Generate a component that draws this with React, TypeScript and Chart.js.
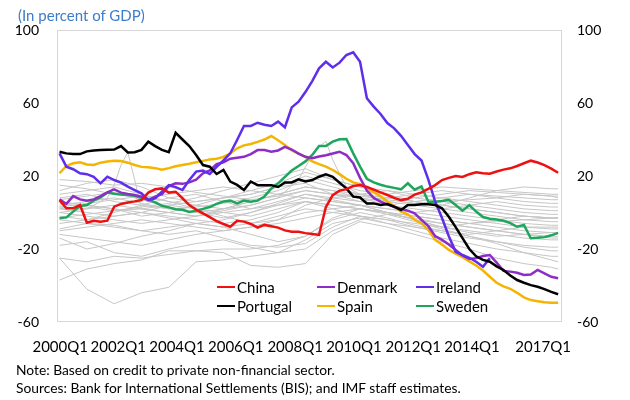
import React, { useEffect, useRef } from "react";
import { Chart, registerables } from "chart.js";
Chart.register(...registerables);

const FONT = "Lato, 'Open Sans', sans-serif";

// x axis (quarter index 0 = 2000Q1)
const xTickLabels = ["2000Q1", "2002Q1", "2004Q1", "2006Q1", "2008Q1", "2010Q1", "2012Q1", "2014Q1", "2017Q1"];
const xTickPos = [0.1, 8.6, 17.2, 25.8, 34.5, 43.1, 51.8, 60.4, 70.8];
const yTicks = [-60, -20, 20, 60, 100];
const X_MIN = -0.37;
const X_MAX = 73.57;

// highlighted series, quarterly from 2000Q1
const china = [6.8, 2.3, 2.3, 4.1, -5.6, -4.5, -5, -4.5, 3.2, 4.7,
  5.5, 6.1, 6.8, 10.9, 12.7, 13.2, 10.9, 11.4, 7.8, 4.1,
  1.6, -0.5, -2.5, -4.7, -6.3, -7.8, -4.5, -5, -6.3, -8.3,
  -6.8, -7.5, -8.3, -9.8, -10.5, -10.6, -11.3, -11.8, -12.3, 3,
  9.5, 12, 12.8, 14.5, 15, 14, 12.5, 11, 9.6, 8,
  6.8, 7.5, 9.8, 11, 13, 15, 17.8, 19, 20, 19.5,
  21, 22, 21.5, 21.3, 22.5, 23.5, 24.2, 25.5, 27, 28.4,
  27.4, 26, 24, 21.8];
const denmark = [7.2, 4.7, 9, 7.2, 6.5, 7.2, 9, 11, 12.7, 10.9,
  10.2, 9.6, 8.7, 6.8, 8.7, 10, 14.5, 16, 15.7, 16.5,
  18, 21.5, 23, 26.5, 27.5, 29.5, 30, 30.5, 32, 34.2,
  34.2, 33.3, 34, 36, 34.5, 32.3, 30.5, 29.8, 30.7, 31.4,
  32.3, 33.3, 31.5, 27, 19, 12, 8, 6, 4.5, 3,
  2, 1, -0.5, -4, -7.5, -13, -15, -17.5, -20.5, -23.5,
  -25.5, -25, -23.8, -23.3, -27.5, -32, -32.4, -33, -34.2, -34,
  -31.5, -33.3, -35.2, -36];
const ireland = [32.4, 25.1, 23.7, 21.5, 21, 19.6, 16, 19.6, 17.8, 16.4,
  14.2, 12.3, 10.5, 6.8, 7.8, 11.4, 15, 13.9, 12.3, 17.8,
  22.4, 23, 21.1, 25, 28.5, 32.4, 39.7, 47.4, 47.4, 49.2,
  48.1, 47.4, 49.8, 46.7, 57.6, 60.7, 66, 72, 79, 82.6,
  79.5, 82.1, 86.3, 87.8, 82.6, 62.6, 58, 54, 49, 46.1,
  42, 37, 32, 28.5, 18, 6, -3, -13, -21.5, -23.3,
  -24.8, -27, -29.7, -25];
const portugal = [33.3, 32.4, 32, 32, 33.5, 34, 34.2, 34.4, 34.5, 36.4,
  32.9, 33, 34.3, 38.8, 36.4, 34.3, 33, 43.7, 40, 36.4,
  31.5, 26, 25.1, 21.1, 23.3, 16.9, 15.1, 12.3, 17, 15,
  15, 15, 14, 16.5, 16.5, 18.2, 17, 17.8, 19.6, 20.9,
  19.6, 16.3, 13.2, 8.7, 8.2, 5, 5, 4.1, 4.6, 3.2,
  1.4, 4.1, 4.1, 4.5, 4.5, 4.1, 2.3, -2.3, -8, -14,
  -20, -24, -26, -27, -29.5, -31.5, -34.5, -37, -38.5, -39.8,
  -40.7, -42, -43.5, -44.8];
const spain = [21.5, 25.5, 27, 27.5, 26.3, 26, 27.3, 28, 28.4, 28.2,
  27.3, 26, 25, 24.8, 24.3, 23.5, 24.3, 25.3, 26, 26.7,
  27.5, 28.3, 29.1, 29.5, 30.5, 32.4, 35.2, 36.8, 37.5, 38.7,
  40, 41.9, 39.6, 37, 34, 32.3, 30.5, 28, 26.5, 25.1,
  23.3, 21, 18.5, 16.5, 15.5, 13.5, 11, 9, 6, 3.5,
  0.5, -1, -4, -6, -9.6, -15, -17.5, -20.5, -22.5, -24.5,
  -26.8, -29, -31.8, -35.2, -38.5, -40.5, -41.8, -44, -46.5, -48,
  -48.6, -49.2, -49.4, -49.4];
const sweden = [-3.2, -2.7, 0.5, 3.6, 4.1, 6.5, 8.3, 10.9, 10.3, 9.8,
  9.6, 9.2, 8, 7, 5.5, 3.7, 2.8, 1.8, 1.5, 0.3,
  1, 2, 3, 4.7, 6, 6.5, 5, 6.5, 5.9, 6.5,
  8.8, 13, 16, 19.5, 23, 25.5, 28, 31.5, 36.4, 36.4,
  38.8, 40.1, 40.3, 32.4, 25.1, 18.5, 16.5, 15.2, 14.2, 13.5,
  12.7, 16, 12.5, 14.3, 5.9, 5.9, 6.3, 7, 4.1, 1,
  4, 0.5, -2.5, -3.4, -3.8, -4.5, -5.8, -7.8, -6.8, -14.1,
  -13.9, -13.5, -12.5, -11.2];

// other economies (grey), read roughly every 4 quarters
const grayX = [0, 4, 8, 12, 16, 20, 24, 28, 32, 36, 40, 44, 48, 52, 56, 60, 64, 68, 72, 73];
const others = [
  [-25, -42, -50, -44, -41, -27, -26, -24, -22, -15, -6, -3, -6, -10, -14, -17, -20, -22, -24, -24],
  [-37, -31, -28, -26, -21, -21, -22, -29, -30, -28, -12, -5, -8, -12, -16, -20, -25, -28, -30, -31],
  [-14, -20, -17, -13, -10, -6, -8, -12, -16, -13, -4, 0, -3, -7, -10, -13, -16, -19, -21, -21],
  [-9, -6, -7, -10, -12, -10, -14, -18, -19, -17, -8, -2, -4, -8, -11, -14, -16, -18, -19, -19],
  [-25, -27, -24, -25, -23, -21, -20, -20, -18, -13, -3, 2, 0, -4, -8, -11, -13, -12, -11, -11],
  [-18, -16, -22, -24, -20, -17, -15, -19, -22, -20, -10, -4, -1, -3, -6, -8, -10, -12, -14, -14],
  [-12, -14, -16, -18, -15, -12, -10, -8, -6, -3, 0, 2, -1, -5, -9, -13, -17, -22, -26, -27],
  [8, 10, 6, 4, 2, 0, 2, 6, 10, 14, 12, 8, 4, 2, 0, -2, -4, -6, -7, -7],
  [4, 6, 8, 5, 2, 3, 5, 8, 12, 18, 14, 10, 6, 4, 2, 0, -2, -4, -5, -5],
  [2, 0, -2, 0, 4, 6, 8, 10, 14, 16, 10, 6, 4, 6, 8, 10, 9, 8, 7, 7],
  [0, 2, 4, 2, 0, -2, 0, 2, 6, 10, 8, 6, 8, 10, 12, 10, 8, 10, 9, 8],
  [-2, -4, -2, 0, -3, -6, -4, 0, 4, 8, 6, 4, 2, 0, 2, 4, 6, 4, 3, 3],
  [6, 4, 2, 0, -2, -4, -6, -4, 0, 6, 4, 2, 0, -2, -4, -6, -8, -10, -11, -11],
  [10, 12, 14, 10, 6, 4, 2, 4, 8, 12, 10, 8, 6, 8, 10, 12, 11, 10, 9, 9],
  [-4, -6, -8, -10, -8, -6, -8, -6, -2, 2, 0, -2, -4, -6, -8, -10, -12, -14, -15, -15],
  [12, 16, 18, 14, 8, 6, 8, 10, 14, 20, 16, 12, 10, 12, 14, 13, 12, 11, 10, 10],
  [3, 5, 7, 9, 6, 2, -2, -6, -4, 4, 8, 10, 12, 8, 6, 4, 2, 0, -1, -1],
  [-6, -4, 0, 4, 8, 10, 6, 2, 4, 6, 2, -2, -6, -8, -10, -12, -10, -8, -8, -8],
  [5, 3, 1, 3, 5, 8, 12, 16, 20, 24, 18, 14, 12, 10, 8, 6, 4, 2, 1, 1],
  [15, 13, 10, 8, 10, 12, 14, 12, 10, 8, 6, 4, 2, 0, -2, -4, -6, -8, -9, -9],
  [0, -2, -4, -6, -4, -2, 2, 6, 10, 14, 12, 10, 8, 6, 4, 8, 12, 14, 13, 13],
  [-10, -8, -6, -4, -6, -8, -10, -8, -4, 0, 2, 4, 0, -4, -8, -6, -4, -2, -3, -3],
  [7, 9, 11, 7, 3, 0, -3, 0, 5, 10, 7, 4, 0, -4, -6, -8, -10, -12, -13, -13],
  [2, 4, 2, -2, 0, 4, 8, 12, 16, 22, 18, 14, 10, 6, 4, 2, 0, -2, -3, -3],
  [18, 17, 15, 16, 14, 11, 9, 7, 9, 12, 10, 9, 7, 5, 6, 7, 8, 6, 5, 5],
];
const spikeAX = [0, 4, 7, 8, 9, 10, 11, 12, 16, 20, 24, 28, 32, 36, 40, 44, 48, 52, 56, 60, 64, 68, 72, 73];
const spikeA = [3, 2, 8, 15, 26, 33, 18, 2, 4, 2, 0, -2, 2, 6, 4, 2, 0, -2, -4, -6, -5, -4, -3, -3];
const spikeBX = [0, 4, 8, 12, 16, 20, 24, 28, 32, 35, 36, 37, 38, 39, 40, 41, 42, 44, 48, 52, 56, 60, 64, 68, 72, 73];
const spikeB = [-3, -1, 1, 2, 0, -2, 1, 4, 8, 18, 25, 31, 36, 39, 29, 21, 14, 10, 8, 6, 4, 2, 0, -2, -3, -3];

const highlighted = [
  { label: "China", data: china, color: "#EE1111" },
  { label: "Portugal", data: portugal, color: "#000000" },
  { label: "Ireland", data: ireland, color: "#5F2EEA" },
  { label: "Denmark", data: denmark, color: "#8E2DC5" },
  { label: "Sweden", data: sweden, color: "#1DA65C" },
  { label: "Spain", data: spain, color: "#F5B400" },
];

const legendRows = [
  ["China", "Denmark", "Ireland"],
  ["Portugal", "Spain", "Sweden"],
];
const legendCols = [217, 317, 416];
const legendRowTop = [277, 296];

const byQuarter = (ys: number[]) => ys.map((y, i) => ({ x: i, y }));
const byX = (xs: number[], ys: number[]) => ys.map((y, i) => ({ x: xs[i], y }));

const framePlugin = {
  id: "frame",
  beforeDatasetsDraw(chart: any) {
    const { ctx, chartArea: a } = chart;
    ctx.save();
    ctx.strokeStyle = "#D6D6D6";
    ctx.lineWidth = 1;
    ctx.strokeRect(a.left + 0.5, a.top + 0.5, a.right - a.left - 1, a.bottom - a.top - 1);
    ctx.restore();
  },
};

// category labels under the plot, placed through the x scale
const xLabelPlugin = {
  id: "xLabels",
  afterDraw(chart: any) {
    const { ctx, chartArea, scales } = chart;
    const sx = scales.x;
    ctx.save();
    ctx.font = `15px ${FONT}`;
    ctx.fillStyle = "#000";
    ctx.textAlign = "center";
    ctx.textBaseline = "middle";
    xTickLabels.forEach((t, i) => {
      ctx.fillText(t, sx.getPixelForValue(xTickPos[i]), chartArea.bottom + 25);
    });
    ctx.restore();
  },
};

export default function App() {
  const ref = useRef<HTMLCanvasElement>(null);
  useEffect(() => {
    const grayStyle = { borderColor: "#C6C6C6", borderWidth: 1, pointRadius: 0, xAxisID: "x", yAxisID: "y" };
    const datasets: any[] = [
      ...highlighted.map((s) => ({
        label: s.label,
        data: byQuarter(s.data),
        borderColor: s.color,
        borderWidth: 2.5,
        pointRadius: 0,
        xAxisID: "x",
        yAxisID: "y",
      })),
      ...others.map((ys, k) => ({ label: "other" + k, data: byX(grayX, ys), ...grayStyle })),
      { label: "spikeA", data: byX(spikeAX, spikeA), ...grayStyle },
      { label: "spikeB", data: byX(spikeBX, spikeB), ...grayStyle },
    ];
    const tickFont = { family: FONT, size: 14 };
    const chart = new Chart(ref.current as HTMLCanvasElement, {
      type: "line",
      data: { datasets },
      plugins: [framePlugin, xLabelPlugin],
      options: {
        responsive: false,
        animation: false,
        events: [],
        layout: { padding: { top: 30, left: 0, right: 0, bottom: 78 } },
        elements: { line: { tension: 0 }, point: { radius: 0 } },
        plugins: { legend: { display: false }, tooltip: { enabled: false } },
        scales: {
          x: { type: "linear", min: X_MIN, max: X_MAX, display: false },
          y: {
            position: "left",
            min: -60,
            max: 100,
            grid: { display: false, drawTicks: false },
            border: { display: false },
            afterBuildTicks: (s: any) => {
              s.ticks = yTicks.map((v) => ({ value: v }));
            },
            afterFit: (s: any) => {
              s.width = 57;
            },
            ticks: { padding: 18, color: "#000", font: tickFont },
          },
          y2: {
            position: "right",
            min: -60,
            max: 100,
            grid: { display: false, drawTicks: false },
            border: { display: false },
            afterBuildTicks: (s: any) => {
              s.ticks = yTicks.map((v) => ({ value: v }));
            },
            afterFit: (s: any) => {
              s.width = 68;
            },
            ticks: { padding: 15, color: "#000", font: tickFont },
          },
        },
      },
    } as any);
    return () => chart.destroy();
  }, []);

  const colorOf = (name: string) => highlighted.find((h) => h.label === name)?.color || "#000";

  return (
    <div
      style={{
        position: "absolute",
        left: 0,
        top: 0,
        width: 630,
        height: 400,
        background: "#fff",
        fontFamily: FONT,
        overflow: "hidden",
      }}
    >
      <canvas ref={ref} width={630} height={400} style={{ position: "absolute", left: 0, top: 0 }} />
      <div style={{ position: "absolute", left: 18, top: 5, fontSize: 15, lineHeight: "20px", color: "#3D7CC9", whiteSpace: "nowrap" }}>
        (In percent of GDP)
      </div>
      {legendRows.map((row, r) =>
        row.map((name, c) => (
          <div
            key={name}
            style={{
              position: "absolute",
              left: legendCols[c],
              top: legendRowTop[r],
              height: 20,
              display: "flex",
              alignItems: "center",
              fontSize: 15,
              color: "#000",
              whiteSpace: "nowrap",
            }}
          >
            <div style={{ width: 18, height: 2.2, background: colorOf(name) }} />
            <span style={{ marginLeft: 2 }}>{name}</span>
          </div>
        ))
      )}
      <div style={{ position: "absolute", left: 16, top: 361, fontSize: 13.8, lineHeight: "18px", color: "#000", whiteSpace: "nowrap" }}>
        Note: Based on credit to private non-financial sector.
      </div>
      <div style={{ position: "absolute", left: 16, top: 379, fontSize: 13.8, lineHeight: "18px", color: "#000", whiteSpace: "nowrap" }}>
        Sources: Bank for International Settlements (BIS); and IMF staff estimates.
      </div>
    </div>
  );
}
